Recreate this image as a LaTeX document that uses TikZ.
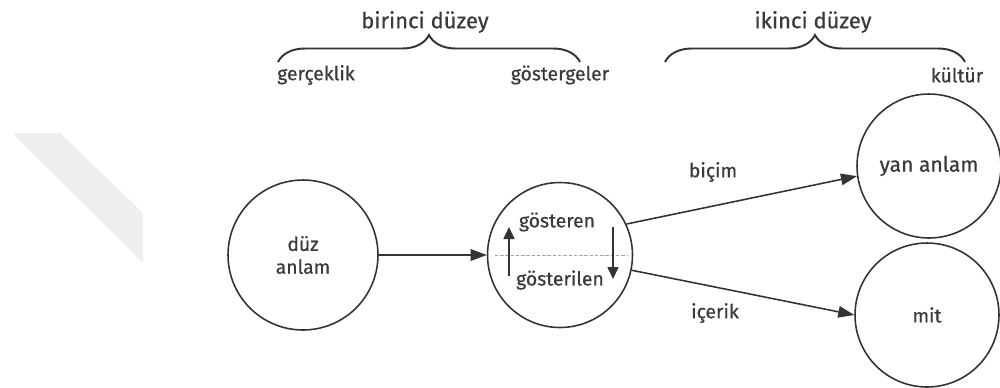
\documentclass[tikz,border=0pt]{standalone}
\usepackage{fontspec}
\setmainfont{Fira Sans}[FakeBold=0.6]
\usetikzlibrary{positioning,arrows.meta,decorations.pathreplacing}
\definecolor{inkgray}{HTML}{333333}
\definecolor{textgray}{HTML}{3A3A3A}
\definecolor{markgray}{HTML}{EFEFEF}

\begin{document}
\begin{tikzpicture}[
    x=0.02cm, y=-0.02cm,
    every node/.style={font=\fontsize{11}{13}\selectfont, text=textgray},
    bubble/.style={draw=inkgray, circle, line width=0.9pt, minimum size=2.9cm, inner sep=0pt, align=center},
    lbl/.style={inner sep=1pt},
    title/.style={inner sep=1pt, font=\fontsize{12.5}{15}\selectfont},
    link/.style={draw=inkgray, line width=0.9pt, -{Triangle[length=3.2mm,width=2.3mm]}},
    inlink/.style={draw=inkgray, line width=0.9pt, -{Triangle[length=2.4mm,width=2.2mm]}},
    bracket/.style={draw=inkgray, line width=1.1pt, decorate, decoration={brace, amplitude=0.54cm}}
]
    \useasboundingbox (0,0) rectangle (1000,387);

    % Soluk arka plan izi
    \fill[markgray] (12,133) -- (60,133) -- (143,213) -- (143,263) -- cycle;

    % Birinci düzey
    \node[title] (birinci) at (425,22) {birinci düzey};
    \node[lbl] (gerceklik) at (316,75) {gerçeklik};
    \node[lbl] (gostergeler) at (560,75) {göstergeler};
    \coordinate (b1l) at (278,62);
    \coordinate (b1r) at (580,62);
    \draw[bracket] (b1l) -- (b1r);

    % İkinci düzey
    \node[title] (ikinci) at (813,22) {ikinci düzey};
    \node[lbl] (kultur) at (957,75) {kültür};
    \coordinate (b2l) at (665,62);
    \coordinate (b2r) at (965,62);
    \draw[bracket] (b2l) -- (b2r);

    % Daireler
    \node[bubble, minimum size=3cm] (duz) at (303,255) {düz\\anlam};
    \node[bubble] (sign) at (560,255) {};
    \node[bubble, minimum size=2.88cm, font=\fontsize{12}{14}\selectfont] (yan) at (929,166) {yan anlam};
    \node[bubble, minimum size=2.88cm] (mit) at (927,315) {mit};

    % Gösterge içi
    \node[lbl] (gosteren) at (557,222) {gösteren};
    \node[lbl] (gosterilen) at (560,280) {gösterilen};
    \draw[gray!70, line width=0.5pt, dash pattern=on 2pt off 1pt] (sign.west) ++(8,0) coordinate (dl) -- (627,255) coordinate (dr);
    \coordinate (upa) at (509,276);
    \coordinate (upb) at (509,227);
    \coordinate (dna) at (613,227);
    \coordinate (dnb) at (613,279);
    \draw[inlink] (upa) -- (upb);
    \draw[inlink] (dna) -- (dnb);

    % Oklar
    \draw[link] (duz) -- (sign);
    \draw[link] (sign.25) -- (yan.188);
    \draw[link] (sign.-12) -- (mit.west);

    \node[lbl] (bicim) at (713,172) {biçim};
    \node[lbl] (icerik) at (715,313) {içerik};

\end{tikzpicture}
\end{document}
